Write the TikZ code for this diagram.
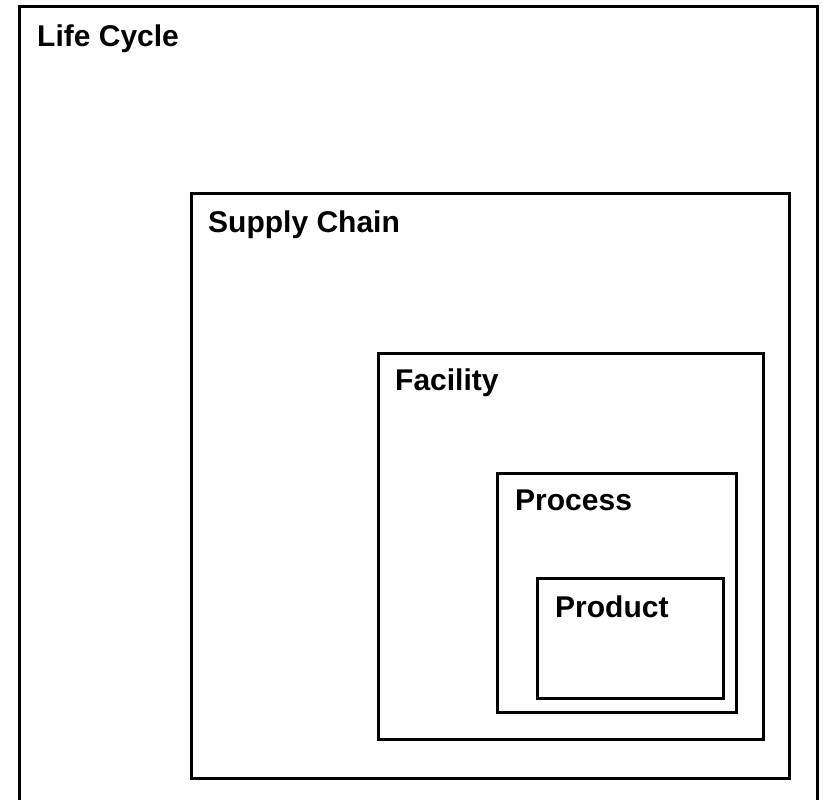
\documentclass[tikz,border=0pt]{standalone}
\usepackage{fontspec}
\setmainfont{Liberation Sans}
\begin{document}
\begin{tikzpicture}[x=1pt,y=-1pt,
  box/.style={draw=black,line width=3pt,inner sep=0pt,outer sep=0pt,anchor=north west},
  lbl/.style={anchor=base west,inner sep=0pt,font=\fontsize{30}{36}\selectfont\bfseries}]
\useasboundingbox (0,0) rectangle (823,800);
\clip (0,0) rectangle (823,800);
\fill[white] (0,0) rectangle (823,800);
\node[box,minimum width=798pt,minimum height=810pt] (lc) at (19,7) {};
\node[box,minimum width=598.5pt,minimum height=584.5pt] (sc) at (191,193.5) {};
\node[box,minimum width=385.5pt,minimum height=386pt] (fa) at (378,353) {};
\node[box,minimum width=238.5pt,minimum height=239pt] (pr) at (497.5,473) {};
\node[box,minimum width=185.5pt,minimum height=119.5pt] (pd) at (537.5,578.5) {};
\node[lbl] (lct) at ([shift={(18,40)}]lc.north west) {Life Cycle};
\node[lbl] (sct) at ([shift={(17,38.5)}]sc.north west) {Supply Chain};
\node[lbl] (fat) at ([shift={(17,37)}]fa.north west) {Facility};
\node[lbl] (prt) at ([shift={(17.5,37)}]pr.north west) {Process};
\node[lbl] (pdt) at ([shift={(17.5,38.5)}]pd.north west) {Product};
\end{tikzpicture}
\end{document}
